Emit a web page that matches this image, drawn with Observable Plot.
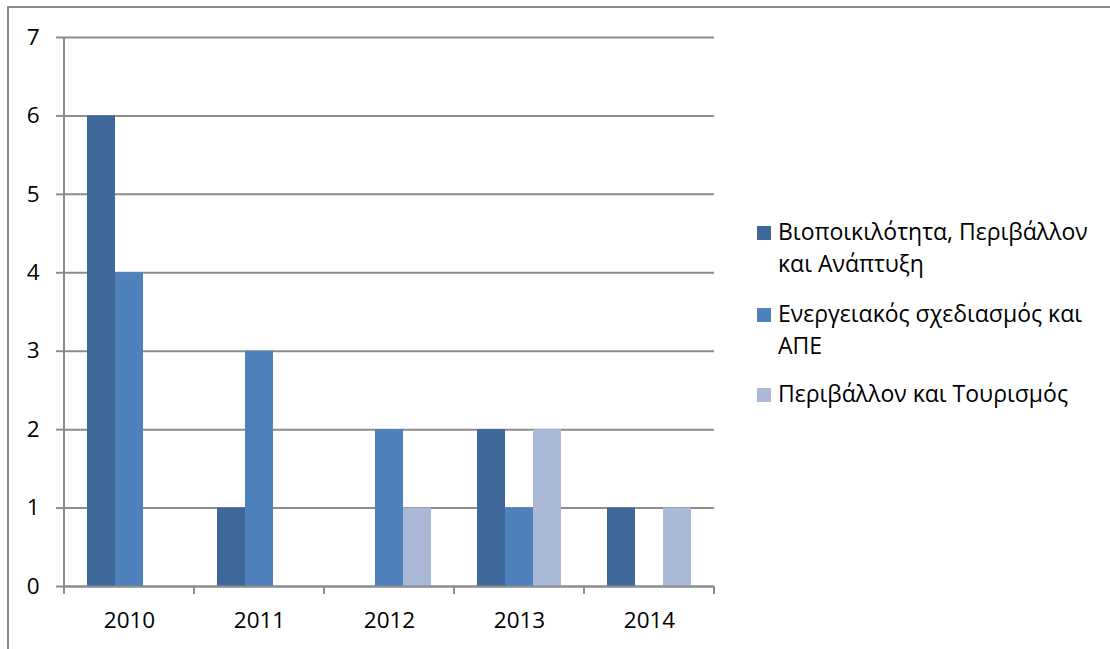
<!DOCTYPE html>
<html><head><meta charset="utf-8">
<script src="https://cdn.jsdelivr.net/npm/d3@7"></script>
<script src="https://cdn.jsdelivr.net/npm/@observablehq/plot@0.6"></script>
<style>
body{margin:0;background:#fff;}
#wrap{position:relative;width:1110px;height:649px;overflow:hidden;font-family:"Open Sans",sans-serif;}
#border{position:absolute;left:7px;top:6px;width:1300px;height:900px;border-left:2px solid #8a8a8a;border-top:2px solid #8a8a8a;}
#chart{position:absolute;left:0;top:0;}
.leg{position:absolute;left:757px;font-size:23px;line-height:31.5px;color:#000;white-space:nowrap;}
.leg .sw{position:absolute;left:0;top:10px;width:14px;height:14px;}
.leg .tx{position:absolute;left:21px;top:0;}
</style>
</head><body>
<div id="wrap"><div id="border"></div><div id="chart"></div><div id="legend"></div></div>
<script>
const years = ["2010","2011","2012","2013","2014"];
const series = ["Βιοποικιλότητα, Περιβάλλον και Ανάπτυξη","Ενεργειακός σχεδιασμός και ΑΠΕ","Περιβάλλον και Τουρισμός"];
const legendLines = [["Βιοποικιλότητα, Περιβάλλον","και Ανάπτυξη"],["Ενεργειακός σχεδιασμός και","ΑΠΕ"],["Περιβάλλον και Τουρισμός"]];
const bio = [6,1,0,2,1];
const energy = [4,3,2,1,0];
const tourism = [0,0,1,2,1];
const colors = ["#3e6899","#4f81bd","#aab9d7"];
const yTicks = [0,1,2,3,4,5,6,7];
const legendTops = [216,298,378];

const data = years.flatMap((yr,i)=>[bio[i],energy[i],tourism[i]].map((v,j)=>({year:yr, series:series[j], value:v})));
const gray = "#8c8c8c";

const plot = Plot.plot({
  width:1110, height:649,
  marginLeft:63, marginRight:396, marginTop:37, marginBottom:63,
  style:{fontFamily:"'Open Sans', sans-serif", fontSize:"22.5px", color:"#000", background:"transparent", overflow:"visible"},
  fx:{domain:years, paddingInner:0, paddingOuter:0, label:null},
  x:{domain:series, paddingInner:0, paddingOuter:0.78, axis:null},
  y:{domain:[0,7], ticks:yTicks, label:null},
  color:{domain:series, range:colors},
  marks:[
    Plot.gridY(yTicks, {stroke:gray, strokeOpacity:1, strokeWidth:2}),
    Plot.axisY(yTicks, {tickSize:8, tickPadding:17, stroke:gray, strokeWidth:2, strokeOpacity:1, label:null, tickFormat:d3.format("d")}),
    Plot.barY(data.filter(d=>d.value>0), {fx:"year", x:"series", y:"value", fill:"series", inset:0}),
    Plot.axisFx({anchor:"bottom", tickSize:0, tickPadding:26, label:null}),
    Plot.ruleY([0], {stroke:gray, strokeWidth:2})
  ]
});

// axis line and category boundary ticks, positioned with Plot's own scales
const fx = plot.scale("fx"), y = plot.scale("y");
const bounds = years.map(yr=>fx.apply(yr)).concat([fx.apply(years[years.length-1])+fx.bandwidth]);
const svg = d3.select(plot);
const g = svg.append("g").attr("stroke", gray).attr("stroke-width", 2);
g.append("line").attr("x1", bounds[0]).attr("x2", bounds[0]).attr("y1", y.apply(7)).attr("y2", y.apply(0));
g.selectAll("line.b").data(bounds).join("line").attr("class","b")
  .attr("x1", d=>d).attr("x2", d=>d).attr("y1", y.apply(0)).attr("y2", y.apply(0)+8);

document.getElementById("chart").appendChild(plot);

const legend = document.getElementById("legend");
legendLines.forEach((lines,i)=>{
  const item = document.createElement("div");
  item.className = "leg";
  item.style.top = legendTops[i] + "px";
  const sw = document.createElement("div");
  sw.className = "sw"; sw.style.background = colors[i];
  const tx = document.createElement("div");
  tx.className = "tx"; tx.innerHTML = lines.join("<br>");
  item.appendChild(sw); item.appendChild(tx);
  legend.appendChild(item);
});
</script>
</body></html>
